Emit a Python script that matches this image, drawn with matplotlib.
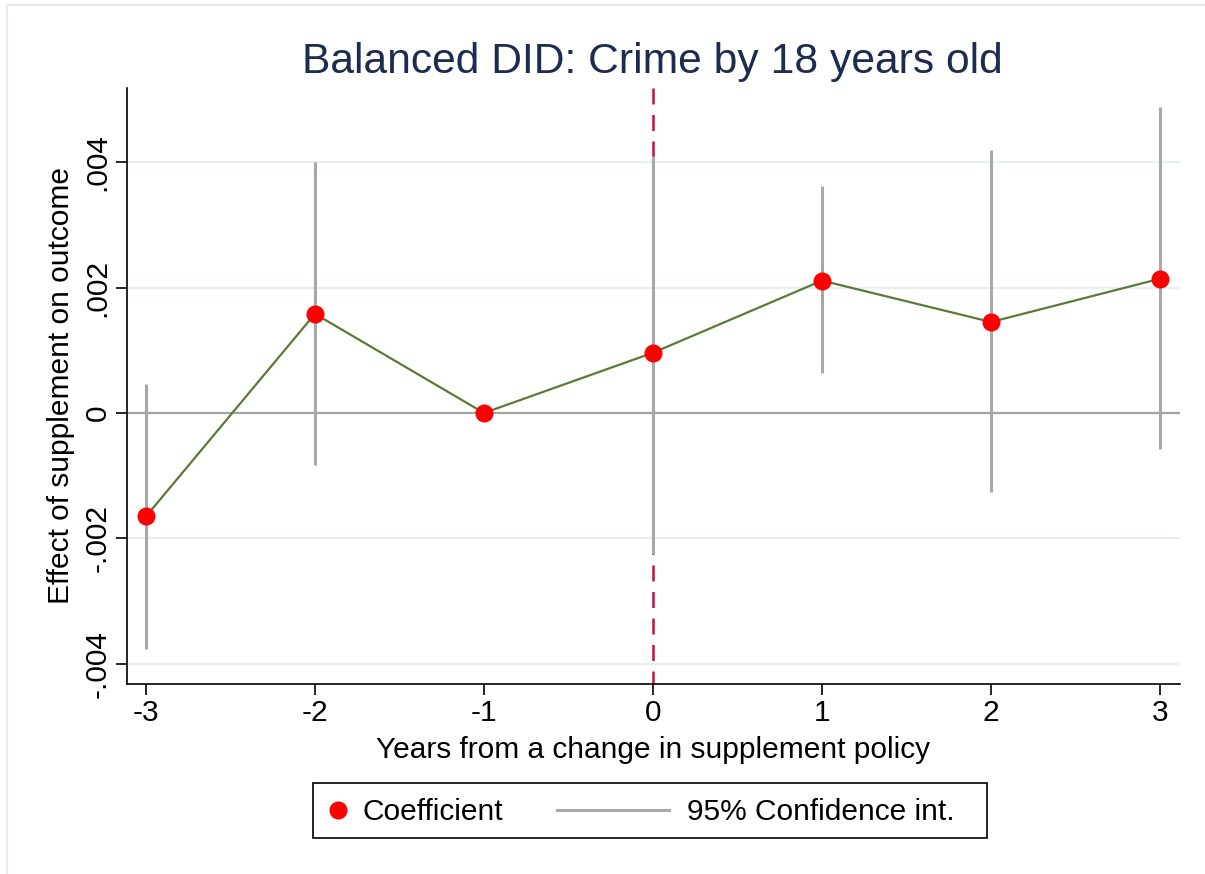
import matplotlib
matplotlib.use("Agg")
import matplotlib.pyplot as plt
from matplotlib.lines import Line2D
from matplotlib.patches import Rectangle
from matplotlib.ticker import FixedLocator, FuncFormatter

plt.rcParams['font.family'] = ['Liberation Sans', 'DejaVu Sans']

# Event-study estimates
years = [-3, -2, -1, 0, 1, 2, 3]
coef = [-0.00165, 0.00158, 0.0, 0.00096, 0.00211, 0.00145, 0.00214]
ci_low = [-0.00377, -0.00083, None, -0.00224, 0.00064, -0.00126, -0.00058]
ci_high = [0.00046, 0.00400, None, 0.00410, 0.00361, 0.00419, 0.00487]
y_ticks = [-0.004, -0.002, 0.0, 0.002, 0.004]
legend_labels = ['Coefficient', '95% Confidence int.']

W, H = 1205, 874
FS = 21.5
CI_COLOR = '#a8a8a8'
PT_COLOR = '#ff0000'

fig = plt.figure(figsize=(W / 100, H / 100), dpi=100)
fig.patch.set_facecolor('white')


def px(x, y):
    """Pixel position (from top-left) to figure fraction."""
    return x / W, 1 - y / H


ax = fig.add_axes([127 / W, 1 - 684 / H, (1180 - 127) / W, (684 - 88) / H])
ymin, ymax = -0.00432, 0.00518
ax.set_xlim(-3.112, 3.118)
ax.set_ylim(ymin, ymax)

# gridlines
for t in y_ticks:
    if t == 0:
        ax.axhline(0, color='#a3a3a3', lw=1.6, zorder=1)
    else:
        ax.axhline(t, color='#e8f0f1', lw=1.6, zorder=1)

# reference line at the policy change, dashed from the top down
ax.plot([0, 0], [ymax, ymin], color='#c8103e', lw=1.8, dashes=(6.4, 4.2), zorder=2)

# confidence intervals
ci_x = [x for x, lo in zip(years, ci_low) if lo is not None]
ci_lo = [lo for lo in ci_low if lo is not None]
ci_hi = [hi for hi in ci_high if hi is not None]
ax.vlines(ci_x, ci_lo, ci_hi, color=CI_COLOR, lw=2.2, zorder=3)

# coefficient path and markers
ax.plot(years, coef, color='#5b7a35', lw=1.6, zorder=4)
ax.plot(years, coef, 'o', color=PT_COLOR, markersize=13, markeredgewidth=0, zorder=5)

for side in ['top', 'right']:
    ax.spines[side].set_visible(False)
ax.spines['left'].set_linewidth(1.2)
ax.spines['bottom'].set_linewidth(1.2)

ax.set_xticks(years)
ax.set_xticklabels([str(y) for y in years])
ax.yaxis.set_major_locator(FixedLocator(y_ticks))


def fmt(v, pos):
    if abs(v) < 1e-12:
        return '0'
    return f'{v:.3f}'.replace('0.', '.')


ax.yaxis.set_major_formatter(FuncFormatter(fmt))
ax.tick_params(axis='both', direction='out', length=8, width=1.2, labelsize=FS, colors='black')
ax.tick_params(axis='x', pad=3)
ax.tick_params(axis='y', pad=3)
for lab in ax.get_yticklabels():
    lab.set_rotation(90)
    lab.set_va('center')

ax.set_xlabel('Years from a change in supplement policy', fontsize=FS, labelpad=6)
ax.set_ylabel('Effect of supplement on outcome', fontsize=FS, labelpad=6)

fig.text(*px(652, 62), 'Balanced DID: Crime by 18 years old',
         ha='center', va='center', fontsize=30.7, color='#1c2b4f')

# legend box below the plot
x0, y0 = px(313, 838)
x1, y1 = px(987, 783)
fig.add_artist(Rectangle((x0, y0), x1 - x0, y1 - y0, transform=fig.transFigure,
                         facecolor='white', edgecolor='black', lw=1.2))
fig.add_artist(Line2D([px(338, 0)[0]], [px(0, 810)[1]], transform=fig.transFigure,
                      marker='o', linestyle='none', color=PT_COLOR,
                      markersize=13, markeredgewidth=0))
fig.text(*px(362, 812), legend_labels[0], ha='left', va='center', fontsize=FS)
fig.add_artist(Line2D([px(557, 0)[0], px(669, 0)[0]], [px(0, 810)[1]] * 2,
                      transform=fig.transFigure, color=CI_COLOR, lw=2.2))
fig.text(*px(687, 812), legend_labels[1], ha='left', va='center', fontsize=FS)

# outer frame of the graph region
fig.add_artist(Line2D([7 / W, 1], [1 - 5 / H, 1 - 5 / H], transform=fig.transFigure,
                      color='#e6eaea', lw=1.5))
fig.add_artist(Line2D([7 / W, 7 / W], [0, 1 - 5 / H], transform=fig.transFigure,
                      color='#e6eaea', lw=1.5))

fig.savefig('out.png', dpi=100, facecolor='white')
